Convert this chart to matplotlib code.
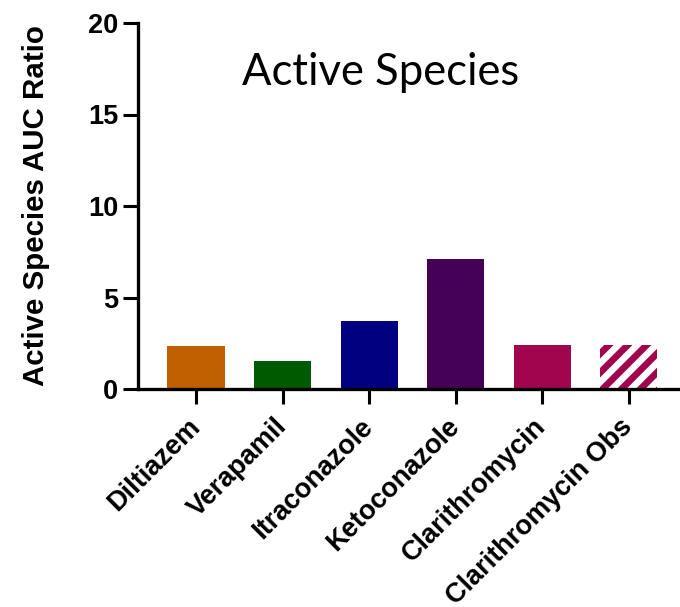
import numpy as np
import matplotlib.pyplot as plt
import matplotlib.transforms as mtransforms

drugs = ["Diltiazem", "Verapamil", "Itraconazole", "Ketoconazole",
         "Clarithromycin", "Clarithromycin Obs"]
auc_ratio = [2.35, 1.55, 3.72, 7.10, 2.42, 2.40]
bar_colors = ["#C06000", "#005A00", "#000080", "#450055", "#A0054E", "#A0054E"]
hatches = [None, None, None, None, None, "///"]

DPI = 170
plt.rcParams['font.family'] = ['Liberation Sans', 'DejaVu Sans']
plt.rcParams['hatch.color'] = 'white'
plt.rcParams['hatch.linewidth'] = 2.8

fig = plt.figure(figsize=(680 / DPI, 607 / DPI), dpi=DPI)
ax = fig.add_axes([138 / 680, 1 - 389 / 607, (680 - 138) / 680, (389 - 23) / 607])

x = np.arange(len(drugs))
for i in range(len(drugs)):
    ax.bar(x[i], auc_ratio[i], width=0.66, color=bar_colors[i],
           hatch=hatches[i], linewidth=0)

ax.set_ylim(0, 20)
ax.set_xlim(-0.67, 5.59)
ax.set_yticks([0, 5, 10, 15, 20])
ax.set_xticks(x)
ax.set_xticklabels(drugs, rotation=45, ha='right', va='center', rotation_mode='anchor',
                   fontsize=11.5, fontweight='bold')
shift = mtransforms.ScaledTranslation(-10 / DPI, 0, fig.dpi_scale_trans)
for lab in ax.get_xticklabels():
    lab.set_transform(lab.get_transform() + shift)
for lab in ax.get_yticklabels():
    lab.set_fontsize(11.5)
    lab.set_fontweight('bold')

for side in ['top', 'right']:
    ax.spines[side].set_visible(False)
for side in ['left', 'bottom']:
    ax.spines[side].set_linewidth(1.4)
ax.tick_params(axis='y', length=6.3, width=1.3, pad=2)
ax.tick_params(axis='x', length=6.3, width=1.3, pad=8)

ax.set_ylabel("Active Species AUC Ratio", fontsize=12.5, fontweight='bold', labelpad=16)
ax.text(0.448, 0.865, "Active Species", transform=ax.transAxes, ha='center', va='center',
        fontsize=18.5, family=['Lato', 'DejaVu Sans'])

fig.savefig("out.png", dpi=DPI)
